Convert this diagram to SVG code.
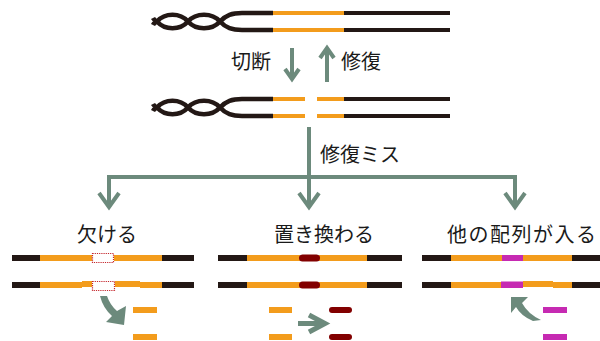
<svg xmlns="http://www.w3.org/2000/svg" width="600" height="341" viewBox="0 0 600 341">
  <style>
    .lbl { font-family: "Noto Sans CJK JP", "Noto Sans", sans-serif; font-size: 20px; fill: #1a1a1a; }
    .dna { fill: none; stroke-width: 4; }
    .hx { fill: none; stroke: #231815; stroke-width: 4.5; }
    .blk { stroke: #231815; }
    .org { stroke: #f39c1c; }
    .conn { fill: none; stroke: #6c8a7c; stroke-width: 4; }
    .head { fill: none; stroke: #6c8a7c; stroke-width: 4; stroke-linejoin: miter; stroke-linecap: butt; }
    .bk { fill: #231815; }
    .og { fill: #f39c1c; }
    .dr { fill: #820000; }
    .mg { fill: #c62ab2; }
    .gap { fill: #ffffff; stroke: #c4262c; stroke-width: 1.2; stroke-dasharray: 1.2 1; }
    .fat { fill: #6c8a7c; }
  </style>

  <!-- intact double strand -->
  <g id="dna-intact">
    <path class="hx" d="M153,18 Q154,20 157,21.5 C165,12.5 180,12.5 188,21.5 C196,30.5 212,30.5 220,21.5 C226,15 232,13 242,13 L273,13"/>
    <path class="hx" d="M153,25 Q154,23 157,21.5 C165,30.5 180,30.5 188,21.5 C196,12.5 212,12.5 220,21.5 C226,28 232,30 242,30 L273,30"/>
    <line class="dna org" x1="273" y1="13" x2="344" y2="13"/>
    <line class="dna org" x1="273" y1="30" x2="344" y2="30"/>
    <line class="dna blk" x1="344" y1="13" x2="450" y2="13"/>
    <line class="dna blk" x1="344" y1="30" x2="450" y2="30"/>
  </g>

  <!-- cut double strand -->
  <g id="dna-cut">
    <path class="hx" d="M153,104 Q154,106 157,107.5 C165,98.5 180,98.5 188,107.5 C196,116.5 212,116.5 220,107.5 C226,101 232,99 242,99 L273,99"/>
    <path class="hx" d="M153,111 Q154,109 157,107.5 C165,116.5 180,116.5 188,107.5 C196,98.5 212,98.5 220,107.5 C226,114 232,116 242,116 L273,116"/>
    <line class="dna org" x1="273" y1="99" x2="305" y2="99"/>
    <line class="dna org" x1="273" y1="116" x2="305" y2="116"/>
    <line class="dna org" x1="317" y1="99" x2="344" y2="99"/>
    <line class="dna org" x1="317" y1="116" x2="344" y2="116"/>
    <line class="dna blk" x1="344" y1="99" x2="450" y2="99"/>
    <line class="dna blk" x1="344" y1="116" x2="450" y2="116"/>
  </g>

  <!-- connectors -->
  <g id="connectors">
    <line class="conn" x1="292" y1="48" x2="292" y2="78"/>
    <polyline class="head" points="285,69 292,79 299,69"/>
    <line class="conn" x1="327" y1="82" x2="327" y2="49"/>
    <polyline class="head" points="320,58 327,48 334,58"/>

    <polyline class="conn" points="309,127 309,207"/>
    <polyline class="conn" points="109,207 109,177 515,177 515,207"/>
    <polyline class="head" points="99,193 109,207 119,193"/>
    <polyline class="head" points="299,193 309,207 319,193"/>
    <polyline class="head" points="505,193 515,207 525,193"/>
  </g>

  <g id="label-cut"><text class="lbl" x="231" y="69">切断</text></g>
  <g id="label-repair"><text class="lbl" x="341" y="69">修復</text></g>
  <g id="label-misrepair"><text class="lbl" x="320" y="162">修復ミス</text></g>

  <!-- deletion -->
  <g id="deletion">
    <text class="lbl" x="77" y="242">欠ける</text>
    <rect class="bk" x="12" y="255" width="28" height="6"/>
    <rect class="og" x="40" y="255" width="52" height="6"/>
    <rect class="gap" x="92.5" y="253.5" width="21" height="9"/>
    <rect class="og" x="114" y="255" width="48" height="6"/>
    <rect class="bk" x="162" y="255" width="32" height="6"/>

    <rect class="bk" x="12" y="282" width="28" height="6"/>
    <rect class="og" x="40" y="282" width="42" height="6"/>
    <rect class="og" x="82" y="281" width="10" height="6"/>
    <rect class="gap" x="92.5" y="281.5" width="22" height="9"/>
    <rect class="og" x="115" y="281" width="25" height="6"/>
    <rect class="og" x="140" y="282" width="22" height="6"/>
    <rect class="bk" x="162" y="282" width="32" height="6"/>

    <path class="fat" d="M100,296 L107,296 Q110,305 117,311 L126,306 L124,325 L106,322 L112,316 Q103,308 100,296 Z"/>
    <rect class="og" x="133" y="307" width="24" height="6"/>
    <rect class="og" x="133" y="334" width="24" height="6"/>
  </g>

  <!-- substitution -->
  <g id="substitution">
    <text class="lbl" x="274" y="242">置き換わる</text>
    <rect class="bk" x="218" y="255" width="29" height="6"/>
    <rect class="og" x="247" y="255" width="53" height="6"/>
    <rect class="og" x="319" y="255" width="48" height="6"/>
    <rect class="dr" x="299" y="254.5" width="21" height="7" rx="3.5"/>
    <rect class="bk" x="367" y="255" width="35" height="6"/>

    <rect class="bk" x="218" y="282" width="29" height="6"/>
    <rect class="og" x="247" y="282" width="53" height="6"/>
    <rect class="og" x="319" y="282" width="48" height="6"/>
    <rect class="dr" x="299" y="281.5" width="21" height="7" rx="3.5"/>
    <rect class="bk" x="367" y="282" width="35" height="6"/>

    <rect class="og" x="269" y="307" width="23" height="6"/>
    <rect class="og" x="269" y="334" width="23" height="6"/>
    <line x1="298" y1="323.5" x2="322" y2="323.5" stroke="#6c8a7c" stroke-width="5"/>
    <polyline points="309,315 325,323.5 309,332" fill="none" stroke="#6c8a7c" stroke-width="5" stroke-linejoin="miter"/>
    <rect class="dr" x="329" y="307" width="23" height="6" rx="3"/>
    <rect class="dr" x="329" y="334" width="23" height="6" rx="3"/>
  </g>

  <!-- insertion -->
  <g id="insertion">
    <text class="lbl" x="447" y="242" letter-spacing="1.5">他の配列が入る</text>
    <rect class="bk" x="422" y="255" width="29" height="6"/>
    <rect class="og" x="451" y="255" width="51" height="6"/>
    <rect class="mg" x="502" y="255" width="21" height="6"/>
    <rect class="og" x="523" y="255" width="49" height="6"/>
    <rect class="bk" x="572" y="255" width="28" height="6"/>

    <rect class="bk" x="422" y="282" width="29" height="6"/>
    <rect class="og" x="451" y="282" width="50" height="6"/>
    <rect class="mg" x="501" y="281.5" width="22" height="6.5"/>
    <rect class="og" x="523" y="281" width="30" height="6"/>
    <rect class="og" x="553" y="282" width="19" height="6"/>
    <rect class="bk" x="572" y="282" width="28" height="6"/>

    <path class="fat" d="M511,297 L528,297 L522,303 Q528,314 541,320 L533,321 Q521,316 516,307 L511,313 Z"/>
    <rect class="mg" x="543" y="307" width="24" height="6"/>
    <rect class="mg" x="543" y="334" width="24" height="6"/>
  </g>
</svg>
